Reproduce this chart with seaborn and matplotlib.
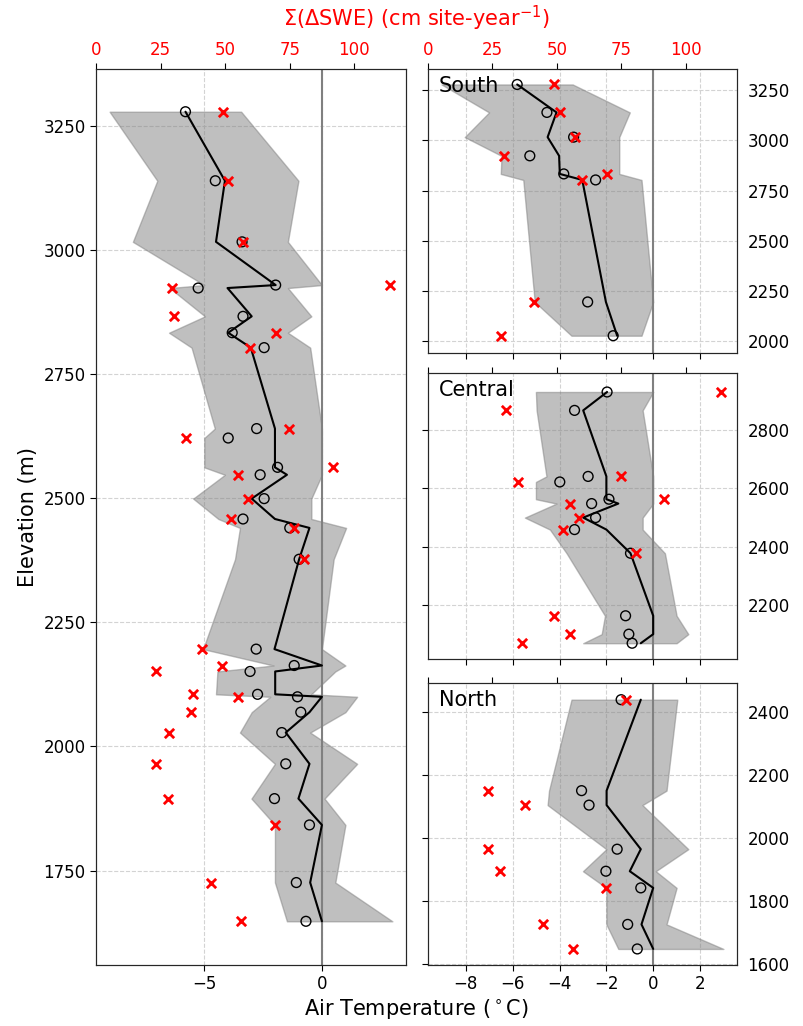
import matplotlib
matplotlib.use("Agg")
import matplotlib.pyplot as plt
import numpy as np
import pandas as pd
import seaborn as sns

# ---------------- data ----------------
south_elev = [3278, 3139, 3016, 2923, 2833, 2803, 2196, 2028]
south_obs = [-5.81, -4.54, -3.40, -5.27, -3.82, -2.46, -2.80, -1.71]
south_mean = [-5.81, -4.13, -4.51, -4.02, -3.99, -3.03, -2.02, -1.54]
south_lo = [-9.04, -7.01, -8.05, -6.48, -6.51, -5.55, -5.06, -3.49]
south_hi = [-3.44, -1.00, -1.45, -1.45, -1.45, -0.50, 0.00, -0.50]
south_swe = [49.0, 51.2, 56.9, 29.4, 69.7, 59.8, 41.1, 28.2]

central_elev = [2929, 2866, 2640, 2621, 2562, 2547, 2499, 2458, 2377, 2163, 2100, 2069]
central_obs = [-1.97, -3.36, -2.78, -3.99, -1.89, -2.63, -2.46, -3.36, -0.97, -1.18, -1.04, -0.90]
central_mean = [-1.97, -2.99, -2.00, -2.00, -2.00, -1.49, -2.99, -2.00, -0.97, 0.00, 0.00, -0.53]
central_lo = [-5.01, -4.98, -4.56, -5.01, -5.01, -4.13, -5.48, -4.41, -3.70, -2.06, -2.20, -2.99]
central_hi = [0.00, -0.45, 0.00, 0.00, 0.00, 0.00, -0.45, -0.45, 0.50, 1.00, 1.50, 1.00]
central_swe = [113.9, 30.2, 74.9, 35.0, 91.6, 55.1, 58.8, 52.3, 80.7, 48.8, 55.1, 36.6]

north_elev = [2440, 2151, 2105, 1965, 1895, 1842, 1726, 1648]
north_obs = [-1.37, -3.06, -2.74, -1.54, -2.02, -0.53, -1.09, -0.68]
north_mean = [-0.53, -1.99, -1.99, -0.53, -1.00, 0.00, -0.50, 0.00]
north_lo = [-3.49, -4.45, -4.51, -2.00, -3.00, -2.00, -2.00, -1.49]
north_hi = [1.03, 0.57, -0.46, 1.50, 0.11, 1.00, 0.57, 3.00]
north_swe = [76.8, 23.2, 37.6, 23.2, 27.9, 69.1, 44.6, 56.3]

region_names = ["South", "Central", "North"]
temp_label = "Air Temperature ($^\\circ$C)"
swe_label = "\u03a3(\u0394SWE) (cm site-year$^{-1}$)"
elev_label = "Elevation (m)"


def make_df(elev, obs, mean, lo, hi, swe, name):
    return pd.DataFrame({"elev": elev, "obs": obs, "mean": mean, "lo": lo,
                         "hi": hi, "swe": swe, "region": name})


dfs = [make_df(south_elev, south_obs, south_mean, south_lo, south_hi, south_swe, "South"),
       make_df(central_elev, central_obs, central_mean, central_lo, central_hi, central_swe, "Central"),
       make_df(north_elev, north_obs, north_mean, north_lo, north_hi, north_swe, "North")]
df_all = pd.concat(dfs, ignore_index=True)

# ---------------- style ----------------
sns.set_style("ticks")
plt.rcParams['font.family'] = ['DejaVu Sans']
plt.rcParams['axes.edgecolor'] = '0.15'
plt.rcParams['text.color'] = 'black'
plt.rcParams['axes.labelcolor'] = 'black'
plt.rcParams['xtick.color'] = 'black'
plt.rcParams['ytick.color'] = 'black'

fig = plt.figure(figsize=(8.04, 10.26), dpi=100)
W, H = 804.0, 1026.0


def box(x0, x1, ytop, ybot):
    return [x0 / W, 1 - ybot / H, (x1 - x0) / W, (ybot - ytop) / H]


ax_all = fig.add_axes(box(96, 406, 69, 965))
ax_s = fig.add_axes(box(428, 737, 69, 353))
ax_c = fig.add_axes(box(428, 737, 373, 659))
ax_n = fig.add_axes(box(428, 737, 683, 965))

TLIM = (-9.62, 3.58)
SWELIM = (0, 120)


def draw(ax, d, ylim):
    d = d.sort_values("elev", ascending=False).reset_index(drop=True)
    ax.set_axisbelow(True)
    ax.grid(True, ls='--', color='#d3d3d3', lw=0.8)
    ax.fill_betweenx(d["elev"], d["lo"], d["hi"], color='gray', alpha=0.5,
                     lw=1, zorder=1)
    ax.axvline(0, color='gray', lw=1.5, zorder=2)
    sns.lineplot(data=d, x="mean", y="elev", sort=False, estimator=None,
                 orient="y", color='black', lw=1.5, ax=ax, zorder=3)
    sns.scatterplot(data=d, x="obs", y="elev", marker='o', s=50,
                    facecolor='none', edgecolor='black', linewidth=1,
                    ax=ax, zorder=4)
    ax.set_xlim(*TLIM)
    ax.set_ylim(*ylim)
    ax.set_xlabel("")
    ax.set_ylabel("")
    tw = ax.twiny()
    sns.scatterplot(data=d, x="swe", y="elev", marker='x', s=45,
                    color='red', linewidth=2, ax=tw, zorder=5)
    tw.set_xlim(*SWELIM)
    tw.set_xticks([0, 25, 50, 75, 100])
    tw.set_xlabel("")
    tw.set_ylabel("")
    tw.tick_params(axis='x', labelsize=12, labelcolor='red', length=4)
    ax.set_ylim(*ylim)
    ax.tick_params(axis='both', labelsize=12, length=4)
    return tw


tw_all = draw(ax_all, df_all, (1560, 3364))
ax_all.set_xticks([-5, 0])
ax_all.set_yticks([1750, 2000, 2250, 2500, 2750, 3000, 3250])
ax_all.set_ylabel(elev_label, fontsize=15)

ylims = {"South": (1942, 3355), "Central": (2015, 2994), "North": (1597, 2493)}
yticks = {"South": [2000, 2250, 2500, 2750, 3000, 3250],
          "Central": [2200, 2400, 2600, 2800],
          "North": [1600, 1800, 2000, 2200, 2400]}
for ax, d, name in zip([ax_s, ax_c, ax_n], dfs, region_names):
    tw = draw(ax, d, ylims[name])
    ax.set_xticks([-8, -6, -4, -2, 0, 2])
    ax.set_yticks(yticks[name])
    ax.tick_params(axis='y', left=True, right=False, labelleft=False,
                   labelright=True)
    ax.text(0.035, 0.975, name, transform=ax.transAxes, fontsize=15,
            ha='left', va='top', color='black', zorder=10)
    if name != "North":
        ax.tick_params(axis='x', labelbottom=False)
    if name != "South":
        tw.tick_params(axis='x', labeltop=False)

fig.text(416 / W, 1 - 18 / H, swe_label, color='red', fontsize=15,
         ha='center', va='center')
fig.text(416 / W, 1 - 1009 / H, temp_label, fontsize=15, color='black',
         ha='center', va='center')

fig.savefig("out.png", dpi=100)
